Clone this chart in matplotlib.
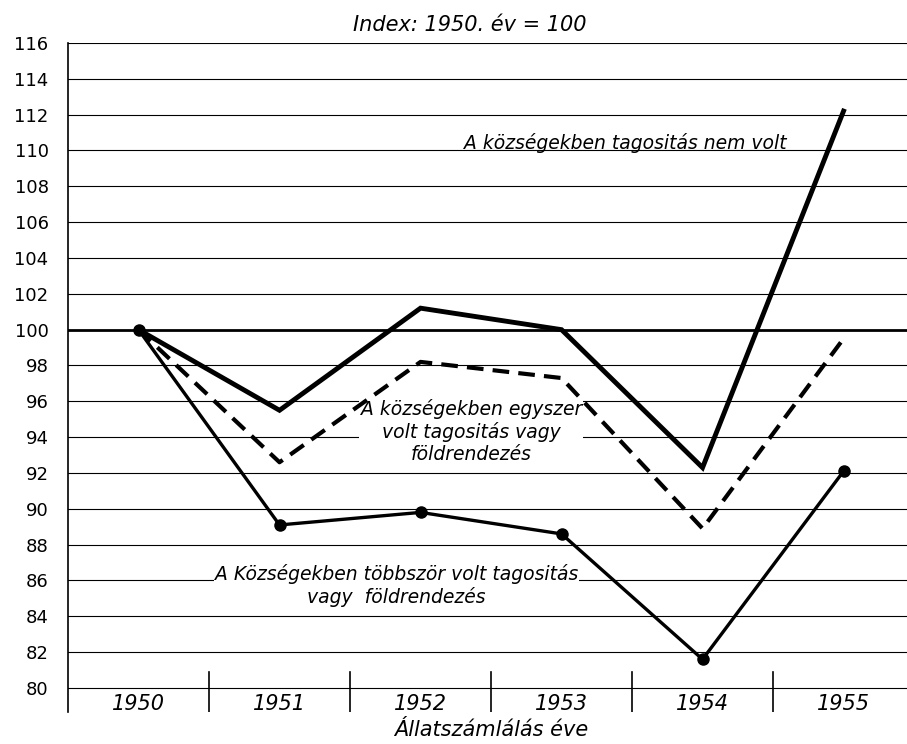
import matplotlib
matplotlib.use("Agg")
import matplotlib.pyplot as plt

years = ["1950", "1951", "1952", "1953", "1954", "1955"]
nem_volt = [100, 95.5, 101.2, 100.0, 92.3, 112.2]
egyszer = [100, 92.6, 98.2, 97.3, 88.9, 99.5]
tobbszor = [100, 89.1, 89.8, 88.6, 81.6, 92.1]
yticks = list(range(80, 117, 2))

fig = plt.figure(figsize=(9.07, 7.44), dpi=100)
ax = fig.add_axes([68/907, 1-712/744, 1-68/907, (712-43)/744])
ax.set_xlim(-0.5, 5.45)
ax.set_ylim(78.66, 116)

x = list(range(len(years)))
for v in yticks:
    ax.axhline(v, color="black", lw=2.0 if v == 100 else 0.8, zorder=1)
for i in range(1, len(years)):
    ax.plot([i-0.5, i-0.5], [78.66, 80.9], color="black", lw=1.2, zorder=1)

ax.plot(x, nem_volt, color="black", lw=3.5, solid_joinstyle="miter", zorder=3)
ax.plot(x, egyszer, color="black", lw=3, dashes=(4, 2.2), zorder=3)
ax.plot(x, tobbszor, color="black", lw=2.4, marker="o", ms=8, zorder=3)

for i, y in enumerate(years):
    ax.text(i, 79.12, y, ha="center", va="center", fontsize=15, style="italic")

for s in ["top", "right", "bottom"]:
    ax.spines[s].set_visible(False)
ax.spines["left"].set_linewidth(1.2)
ax.set_xticks([])
ax.set_yticks(yticks)
ax.set_yticklabels([str(v) for v in yticks], fontsize=13)
ax.tick_params(axis="y", length=0, pad=14)

bb = dict(facecolor="white", edgecolor="none", pad=1)
ax.text(3.45, 110.4, "A községekben tagositás nem volt", ha="center", va="center",
        fontsize=13.5, style="italic", zorder=4)
ax.text(2.36, 94.3, "A községekben egyszer\nvolt tagositás vagy\nföldrendezés", ha="center",
        va="center", fontsize=13.5, style="italic", linespacing=1.2, bbox=bb, zorder=2)
ax.text(1.83, 85.7, "A Községekben többször volt tagositás\nvagy  földrendezés", ha="center",
        va="center", fontsize=13.5, style="italic", linespacing=1.2, bbox=bb, zorder=2)

fig.text(470/907, 1-25/744, "Index: 1950. év = 100", ha="center", va="center",
         fontsize=15, style="italic")
fig.text(491/907, 1-730/744, "Állatszámlálás éve", ha="center", va="center",
         fontsize=15, style="italic")

fig.savefig("out.png", dpi=100)
